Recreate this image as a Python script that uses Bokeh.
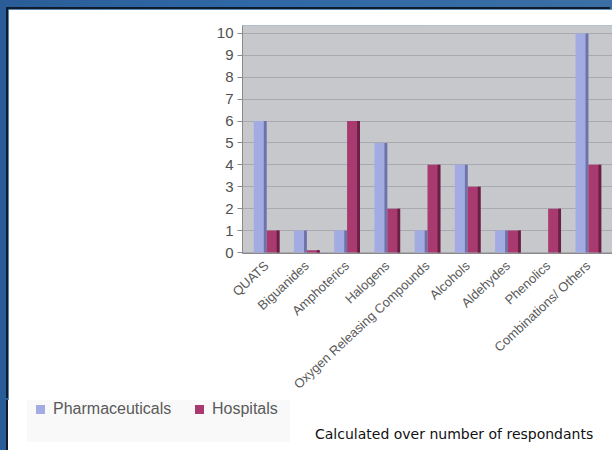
from bokeh.plotting import figure
from bokeh.models import Range1d, FixedTicker, Div
from bokeh.layouts import column
from bokeh.embed import file_html
from bokeh.resources import INLINE

# Disinfectant classes and number of respondents per sector
categories = ["QUATS", "Biguanides", "Amphoterics", "Halogens",
              "Oxygen Releasing Compounds", "Alcohols", "Aldehydes",
              "Phenolics", "Combinations/ Others"]
pharmaceuticals = [6, 1, 1, 5, 1, 4, 1, 0, 10]
hospitals = [1, 0.1, 6, 2, 4, 3, 1, 2, 4]
series_names = ["Pharmaceuticals", "Hospitals"]
y_ticks = list(range(0, 11))
note = "Calculated over number of respondants"

BLUE, BLUE_SIDE = "#a3abe3", "#6d72a8"
RED, RED_SIDE = "#a83a70", "#6a1f44"
EDGE = "#0e1c2c"

x = list(range(len(categories)))
off, bw, side = 0.16, 0.32, 0.07

# ---- chart -----------------------------------------------------------
p = figure(width=604, height=391, output_backend="svg", toolbar_location=None,
           x_range=Range1d(-0.6, 8.6), y_range=Range1d(-0.045, 10.36),
           min_border_left=234, min_border_right=0, min_border_top=16,
           min_border_bottom=142)
p.margin = (9, 0, 0, 8)
p.styles = {"box-shadow": f"-2px -2px 0 0 {EDGE}"}
p.background_fill_color = "#c7c8cc"
p.border_fill_color = "white"
p.outline_line_color = None

# front faces and darker right-hand side faces of the columns
p.vbar(x=[i - off for i in x], top=pharmaceuticals, width=bw,
       fill_color=BLUE, line_color=None)
p.vbar(x=[i - off + bw / 2 - side / 2 for i in x], top=pharmaceuticals,
       width=side, fill_color=BLUE_SIDE, line_color=None)
p.vbar(x=[i + off for i in x], top=hospitals, width=bw,
       fill_color=RED, line_color=None)
p.vbar(x=[i + off + bw / 2 - side / 2 for i in x], top=hospitals,
       width=side, fill_color=RED_SIDE, line_color=None)

p.xgrid.grid_line_color = None
p.ygrid.grid_line_color = "#a8aaaf"
p.ygrid.ticker = FixedTicker(ticks=y_ticks)

p.yaxis.ticker = FixedTicker(ticks=y_ticks)
p.yaxis.minor_tick_line_color = None
p.yaxis.axis_line_color = "#8a8a8a"
p.yaxis.major_tick_line_color = "#8a8a8a"
p.yaxis.major_tick_out = 5
p.yaxis.major_tick_in = 0
p.yaxis.major_label_text_font = "Liberation Sans"
p.yaxis.major_label_text_font_size = "15px"
p.yaxis.major_label_text_color = "#505050"
p.yaxis.major_label_standoff = 4

p.xaxis.ticker = FixedTicker(ticks=x)
p.xaxis.major_label_overrides = {i: c for i, c in enumerate(categories)}
p.xaxis.major_label_orientation = 0.75
p.xaxis.major_label_text_font = "Liberation Sans"
p.xaxis.major_label_text_font_size = "13px"
p.xaxis.major_label_text_color = "#5a5a5a"
p.xaxis.major_label_standoff = 4
p.xaxis.axis_line_color = "#8a8a8a"
p.xaxis.major_tick_line_color = None
p.xaxis.minor_tick_line_color = None

# ---- footer: series key and note ----------------------------------------
swatch = ("position:absolute;top:5px;width:9px;height:9px;")
label = ("position:absolute;top:0;line-height:18px;font-size:16px;"
         "font-family:'Liberation Sans',sans-serif;color:#5a5a5a;white-space:nowrap;")
footer_html = (
    '<div style="position:relative;width:604px;height:50px;">'
    '<div style="position:absolute;left:19px;top:0;width:263px;height:42px;background:#f9f9f9;"></div>'
    f'<div style="{swatch}left:28px;background:{BLUE};"></div>'
    f'<div style="{label}left:45px;">{series_names[0]}</div>'
    f'<div style="{swatch}left:187px;background:{RED};"></div>'
    f'<div style="{label}left:204px;">{series_names[1]}</div>'
    '<div style="position:absolute;left:307px;top:25px;line-height:18px;font-size:14px;'
    f'font-family:\'DejaVu Sans\',sans-serif;color:#111111;white-space:nowrap;">{note}</div>'
    '</div>'
)
footer = Div(text=footer_html, width=604, height=50, margin=(0, 0, 0, 8),
             styles={"background": "white", "box-shadow": f"-2px 0 0 0 {EDGE}"})

page = column(p, footer, width=612, height=450, spacing=0,
              styles={"background": "linear-gradient(90deg, #2a5d97 0%, #2f68a6 40%, #3b6fa4 100%)"})

open("out.html", "w").write(file_html(page, INLINE))
